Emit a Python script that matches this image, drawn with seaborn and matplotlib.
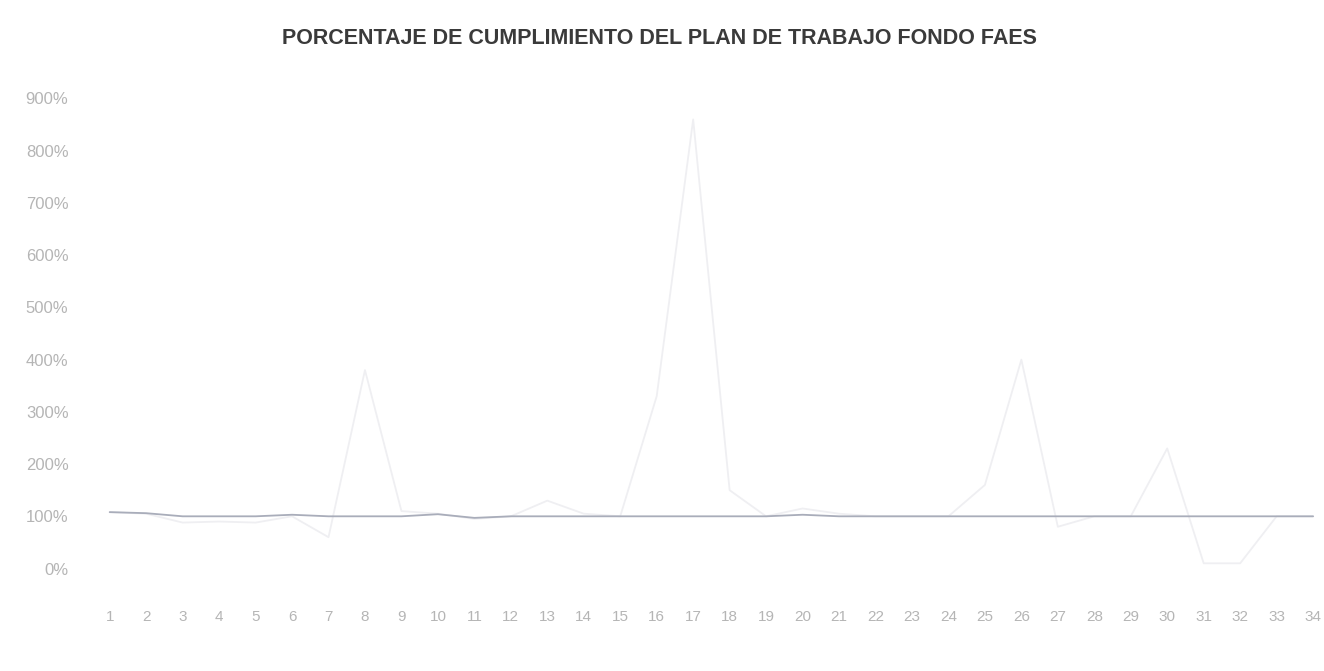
import matplotlib
matplotlib.use('Agg')
import matplotlib.pyplot as plt
import pandas as pd
import seaborn as sns

# Puntos del plan de trabajo (eje x)
puntos = list(range(1, 35))

# Serie principal (cumplimiento cercano al 100%)
cumplimiento = [108, 106, 100, 100, 100, 103, 100, 100, 100, 104,
                97, 100, 100, 100, 100, 100, 100, 100, 100, 103,
                100, 100, 100, 100, 100, 100, 100, 100, 100, 100,
                100, 100, 100, 100]

# Serie tenue (porcentaje ejecutado)
ejecutado = [108, 105, 88, 90, 88, 100, 60, 380, 110, 105,
             95, 100, 130, 105, 100, 330, 860, 150, 100, 115,
             105, 100, 100, 100, 160, 400, 80, 100, 100, 230,
             10, 10, 100, 100]

y_ticks = [0, 100, 200, 300, 400, 500, 600, 700, 800, 900]

df = pd.DataFrame({'punto': puntos, 'cumplimiento': cumplimiento, 'ejecutado': ejecutado})

sns.set_style('white')
plt.rcParams['font.family'] = ['Liberation Sans', 'DejaVu Sans']

fig = plt.figure(figsize=(13.24, 6.71), dpi=100)
ax = fig.add_axes([0.079, 0.106, 0.918, 0.755])

# serie tenue casi invisible, como en el escaneo
sns.lineplot(data=df, x='punto', y='ejecutado', ax=ax, color='#efeff2', linewidth=1.3)
sns.lineplot(data=df, x='punto', y='cumplimiento', ax=ax, color='#a9adba', linewidth=1.3)

ax.set_xlim(0.86, 34.19)
ax.set_ylim(-60, 910)
ax.set_xticks(puntos)
ax.set_xticklabels([str(p) for p in puntos])
ax.set_yticks(y_ticks)
ax.set_yticklabels([f'{v}%' for v in y_ticks])
ax.tick_params(axis='x', colors='#b5b5b5', labelsize=11, length=0, pad=7)
ax.tick_params(axis='y', colors='#b5b5b5', labelsize=12, length=0, pad=26)
ax.set_xlabel('')
ax.set_ylabel('')
sns.despine(ax=ax, left=True, bottom=True, top=True, right=True)

fig.text(0.498, 0.943, 'PORCENTAJE DE CUMPLIMIENTO DEL PLAN DE TRABAJO FONDO FAES',
         ha='center', va='center', fontsize=15.5, fontweight='bold', color='#3a3a3a')

fig.savefig('out.png', dpi=100, facecolor='white')
